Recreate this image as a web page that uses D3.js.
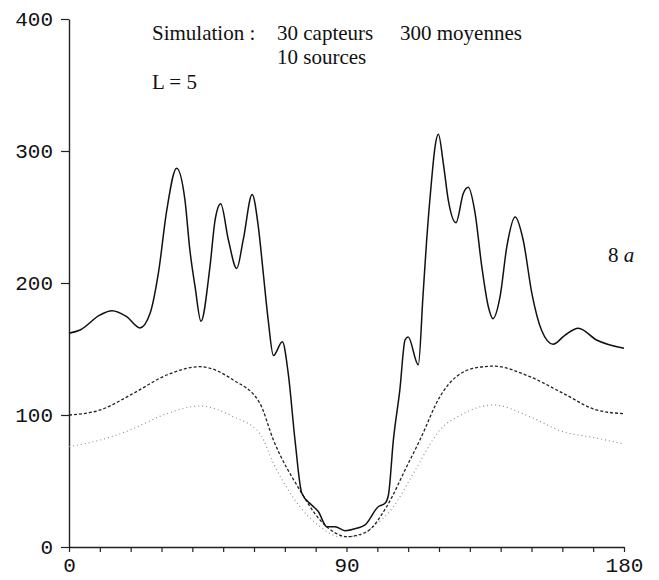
<!DOCTYPE html>
<html>
<head>
<meta charset="utf-8">
<script src="https://cdn.jsdelivr.net/npm/d3@7"></script>
<style>
    body { margin: 0; background: #fff; }
    .tick-label { font-family: "Liberation Mono", monospace; font-size: 21px; fill: #111; }
    .note { font-family: "Liberation Serif", serif; font-size: 21px; fill: #111; }
</style>
</head>
<body>
<svg id="chart" width="659" height="580"></svg>
<script>
// Data: angle (degrees) and response
const solidAngle = [0, 3.6, 10.1, 13.9, 18.7, 23, 26.3, 29, 31.7, 34.9, 37.6, 39.2, 40.9, 42.8, 45.7, 47.4, 49.2, 51.7, 54.4, 56.5, 59.4, 61.4, 63, 64.6, 66.3, 69.2, 71.1, 73.3, 75.5, 78.7, 80.9, 83.6, 86.3, 89.5, 93.3, 96, 100.3, 102.5, 103.6, 105.2, 107.3, 109, 110, 113.3, 114.8, 116, 117.6, 118.7, 119.8, 121.4, 123, 125.5, 127.9, 129.5, 131.7, 133.9, 136, 137.5, 139.8, 142, 144.7, 147.3, 150.1, 153.3, 157, 160.9, 165.2, 171.1, 180];
const solidValue = [162, 164.4, 175.8, 179, 174.5, 166, 177, 207.6, 255, 287, 263, 225, 197, 171, 212, 248, 260, 232.6, 211, 232.6, 267, 242.7, 207.6, 172, 145, 155.5, 131.6, 81, 40.7, 31.8, 26.7, 15.4, 15.4, 12.3, 14.2, 16.7, 30.5, 33.1, 39.4, 81, 119, 157, 159, 138, 190, 232.6, 278, 303, 312.6, 290.7, 263, 245.7, 268, 272.5, 253, 212, 182, 173, 189.6, 227.5, 250, 232.6, 192.4, 164, 153.6, 160.6, 165.7, 156.8, 150.5];

const dashedAngle = [0, 10.1, 20.9, 31.7, 42.5, 53.3, 61.9, 66.3, 74.9, 81.4, 87.9, 90, 96.6, 103, 109.5, 113.8, 120.3, 131.2, 137.6, 149.5, 160.3, 171.1, 180];
const dashedValue = [100, 103.8, 116.4, 130.3, 136.6, 126.5, 108.9, 81, 43, 20.5, 9, 7.8, 11.6, 30.5, 60.8, 81, 113.9, 135.4, 137, 129, 116.4, 103.8, 101];

const dottedAngle = [0, 10.1, 19.8, 31.7, 42.5, 53.3, 61.9, 66.3, 74.9, 81.4, 87.9, 93.3, 98.7, 105.2, 111.7, 120.3, 127.9, 137.6, 149.5, 160.3, 170, 180];
const dottedValue = [76, 81, 88.6, 101, 106.8, 98.7, 86, 63.4, 30.5, 15.4, 7.8, 8.3, 15.4, 30.5, 55.8, 88.6, 101, 107.6, 98.7, 87.3, 83, 78];

const xTicks = d3.range(0, 181, 10);
const xTickLabels = [0, 90, 180];
const yTicks = [0, 100, 200, 300, 400];

const svg = d3.select('#chart');

// Scales
const xScale = d3.scaleLinear()
    .domain([0, 180])
    .range([69, 624]);

const yScale = d3.scaleLinear()
    .domain([0, 400])
    .range([547, 19]);

// Axes
const xAxis = svg.append('g')
    .attr('transform', `translate(0,${yScale(0)})`)
    .call(d3.axisBottom(xScale)
        .tickValues(xTicks)
        .tickSize(5)
        .tickSizeOuter(0)
        .tickPadding(5)
        .tickFormat(d => xTickLabels.includes(d) ? d : ''));

const yAxis = svg.append('g')
    .attr('transform', `translate(${xScale(0)},0)`)
    .call(d3.axisLeft(yScale)
        .tickValues(yTicks)
        .tickSize(8)
        .tickSizeOuter(0)
        .tickPadding(8));

[xAxis, yAxis].forEach(ax => {
    ax.select('.domain').attr('stroke', '#222').attr('stroke-width', 1.4);
    ax.selectAll('.tick line').attr('stroke', '#222').attr('stroke-width', 1.2);
    ax.selectAll('.tick text')
        .attr('class', 'tick-label')
        .attr('fill', null);
});
yAxis.selectAll('.tick text').attr('dy', '0.33em');

// Curves
const line = d3.line()
    .x(d => xScale(d[0]))
    .y(d => yScale(d[1]))
    .curve(d3.curveMonotoneX);

const series = [
    { angle: dottedAngle, value: dottedValue, stroke: '#888', width: 1.1, dash: '1,3' },
    { angle: dashedAngle, value: dashedValue, stroke: '#222', width: 1.3, dash: '3,2' },
    { angle: solidAngle, value: solidValue, stroke: '#111', width: 1.5, dash: null }
];

series.forEach(s => {
    svg.append('path')
        .datum(s.angle.map((a, i) => [a, s.value[i]]))
        .attr('d', line)
        .attr('fill', 'none')
        .attr('stroke', s.stroke)
        .attr('stroke-width', s.width)
        .attr('stroke-dasharray', s.dash);
});

// Annotations
const notes = [
    { x: 152, y: 40, text: 'Simulation :' },
    { x: 277, y: 40, text: '30 capteurs' },
    { x: 400, y: 40, text: '300 moyennes' },
    { x: 277, y: 64, text: '10 sources' },
    { x: 152, y: 89, text: 'L = 5' }
];

notes.forEach(n => {
    svg.append('text')
        .attr('class', 'note')
        .attr('x', n.x)
        .attr('y', n.y)
        .text(n.text);
});

const fig = svg.append('text')
    .attr('class', 'note')
    .attr('x', 608)
    .attr('y', 262);
fig.append('tspan').text('8 ');
fig.append('tspan').attr('font-style', 'italic').text('a');
</script>
</body>
</html>
